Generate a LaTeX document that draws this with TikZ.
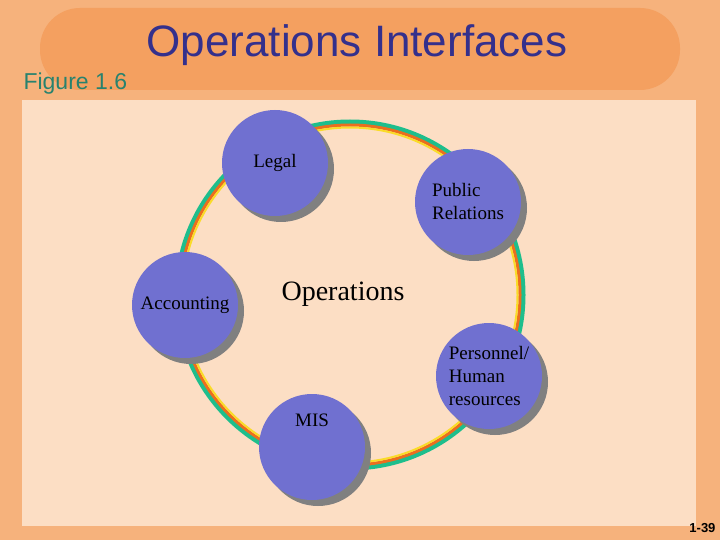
\documentclass[tikz,border=0pt]{standalone}
\usepackage{fontspec}
\setmainfont{Liberation Serif}
\newfontfamily\sansf{Liberation Sans}
\definecolor{bgor}{RGB}{246,178,124}
\definecolor{bannr}{RGB}{244,160,96}
\definecolor{panel}{RGB}{252,222,196}
\definecolor{ttl}{RGB}{52,48,140}
\definecolor{fig}{RGB}{40,130,110}
\definecolor{ball}{RGB}{112,112,208}
\definecolor{shad}{RGB}{128,128,128}
\definecolor{rgreen}{RGB}{30,190,140}
\definecolor{rorange}{RGB}{235,110,30}
\definecolor{ryellow}{RGB}{250,220,40}
\tikzset{
  ball/.style={circle,fill=ball,minimum size=106pt,inner sep=0pt,font=\fontsize{19}{23}\selectfont,align=left},
  shadowball/.style={circle,fill=shad,minimum size=106pt,inner sep=0pt}
}
\begin{document}
\begin{tikzpicture}[x=1pt,y=-1pt]
\useasboundingbox (0,0) rectangle (720,540);
\fill[bgor] (0,0) rectangle (720,540);
\fill[bannr,rounded corners=40pt] (40,8) rectangle (680,90);
\fill[panel] (22,100) rectangle (696,526);
\node[font=\sansf\fontsize{44}{48}\selectfont,text=ttl] (title) at (357,45) {Operations Interfaces};
\node[font=\sansf\fontsize{23}{26}\selectfont,text=fig,anchor=west] (figno) at (20,84) {Figure 1.6};
\node[font=\sansf\bfseries\fontsize{13}{15}\selectfont,anchor=east] (pg) at (719,528) {1-39};
% ring
\coordinate (c) at (350,295);
\draw[rgreen,line width=5pt] (c) circle (173);
\draw[rorange,line width=3pt] (c) circle (170);
\draw[ryellow,line width=2pt] (c) circle (167.5);
% shadows
\foreach \x/\y in {275/163,468/202,185/305,489/376,312/447}
  \node[shadowball] at (\x+6,\y+6) {};
\node[ball] (legal) at (275,163) {Legal};
\node[ball] (pr) at (468,202) {Public\\Relations};
\node[ball] (acc) at (185,305) {Accounting};
\node[ball] (hr) at (489,376) {Personnel/\\Human\\resources};
\node[ball] (mis) at (312,447) {MIS\\[30pt]};
\node[font=\fontsize{28}{32}\selectfont] (ops) at (343,294) {Operations};
\end{tikzpicture}
\end{document}
